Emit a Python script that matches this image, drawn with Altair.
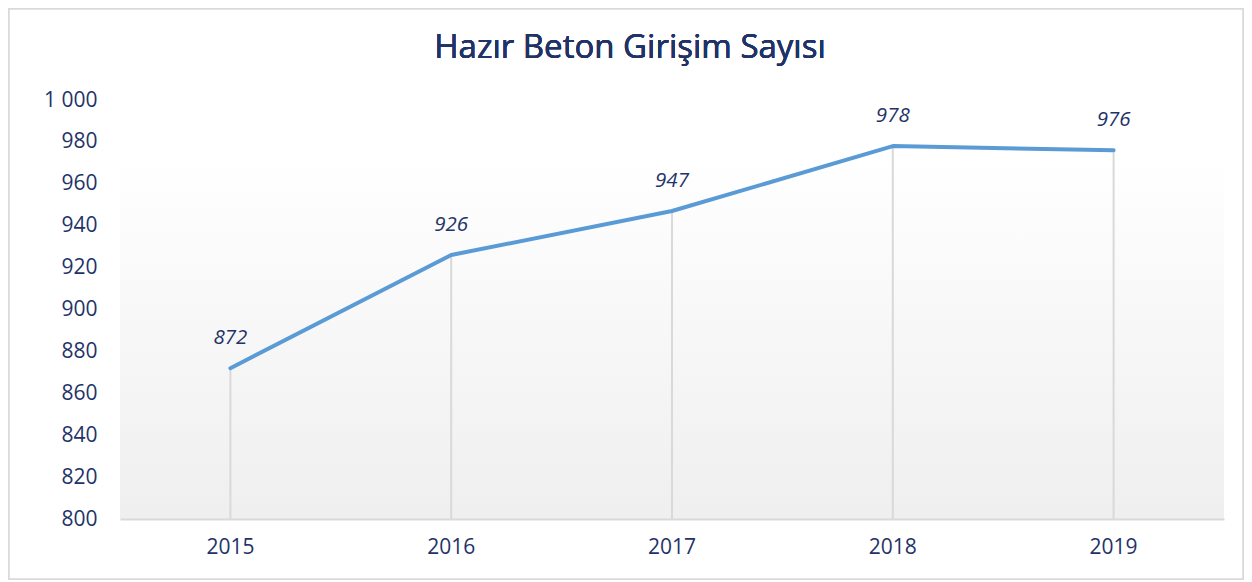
import altair as alt
import pandas as pd

years = ["2015", "2016", "2017", "2018", "2019"]
values = [872, 926, 947, 978, 976]
y_ticks = [800, 820, 840, 860, 880, 900, 920, 940, 960, 980, 1000]
title_text = "Hazır Beton Girişim Sayısı"

df = pd.DataFrame({"year": years, "value": values, "base": [800] * len(years)})

W, H = 1104, 419
PAD_L, PAD_T = 112, 92
TOTAL_W, TOTAL_H = 1236, 572
NAVY = "#1f3368"
FONT = "Open Sans"

xs = alt.Scale(domain=years, paddingInner=0, paddingOuter=0)
ys = alt.Scale(domain=[800, 1000], nice=False, zero=False)

x_axis = alt.Axis(title=None, labelAngle=0, labelFontSize=21, labelColor=NAVY, labelFont=FONT,
                  domainColor="#d9d9d9", domainWidth=2, ticks=False, grid=False, labelPadding=17, zindex=1)
y_axis = alt.Axis(title=None, values=y_ticks, labelFontSize=21, labelColor=NAVY, labelFont=FONT,
                  labelExpr="datum.value >= 1000 ? '1 000' : datum.label",
                  domain=False, ticks=False, grid=False, labelPadding=23, zindex=1)

base = alt.Chart(df)

# outer border
border = base.mark_rect(fill="transparent", stroke="#d9d9d9", strokeWidth=1.5, clip=False).encode(
    x=alt.value(-PAD_L + 0.5), x2=alt.value(TOTAL_W - PAD_L - 0.5),
    y=alt.value(-PAD_T + 0.5), y2=alt.value(TOTAL_H - PAD_T - 0.5),
)

bg = base.mark_rect(
    fill=alt.Gradient(
        gradient="linear", x1=0, y1=0, x2=0, y2=1,
        stops=[alt.GradientStop(color="#ffffff", offset=0), alt.GradientStop(color="#efefef", offset=1)],
    )
).encode(x=alt.value(0), x2=alt.value(W), y=alt.value(56), y2=alt.value(H))

drops = base.mark_rule(color="#d9d9d9", strokeWidth=2).encode(
    x=alt.X("year:N", scale=xs, axis=x_axis),
    y=alt.Y("value:Q", scale=ys, axis=y_axis),
    y2="base:Q",
)

line = base.mark_line(color="#5b9bd5", strokeWidth=4, strokeCap="round", strokeJoin="round").encode(
    x=alt.X("year:N", scale=xs, axis=x_axis),
    y=alt.Y("value:Q", scale=ys, axis=y_axis),
)

labels = base.mark_text(fontStyle="italic", fontSize=20.5, color=NAVY, font=FONT, dy=-30).encode(
    x=alt.X("year:N", scale=xs), y=alt.Y("value:Q", scale=ys), text="value:Q"
)

title = base.mark_text(fontSize=33, color=NAVY, font=FONT, baseline="middle", align="center").encode(
    x=alt.value(630 - 120), y=alt.value(-52), text=alt.datum(title_text)
)

chart = alt.layer(border, bg, drops, line, labels, title).properties(
    width=W, height=H,
    autosize=alt.AutoSizeParams(type="none"),
    padding={"left": PAD_L, "top": PAD_T, "right": TOTAL_W - PAD_L - W, "bottom": TOTAL_H - PAD_T - H},
).configure_view(stroke=None)

chart.save("out.html", embed_options={"renderer": "svg", "actions": False})
